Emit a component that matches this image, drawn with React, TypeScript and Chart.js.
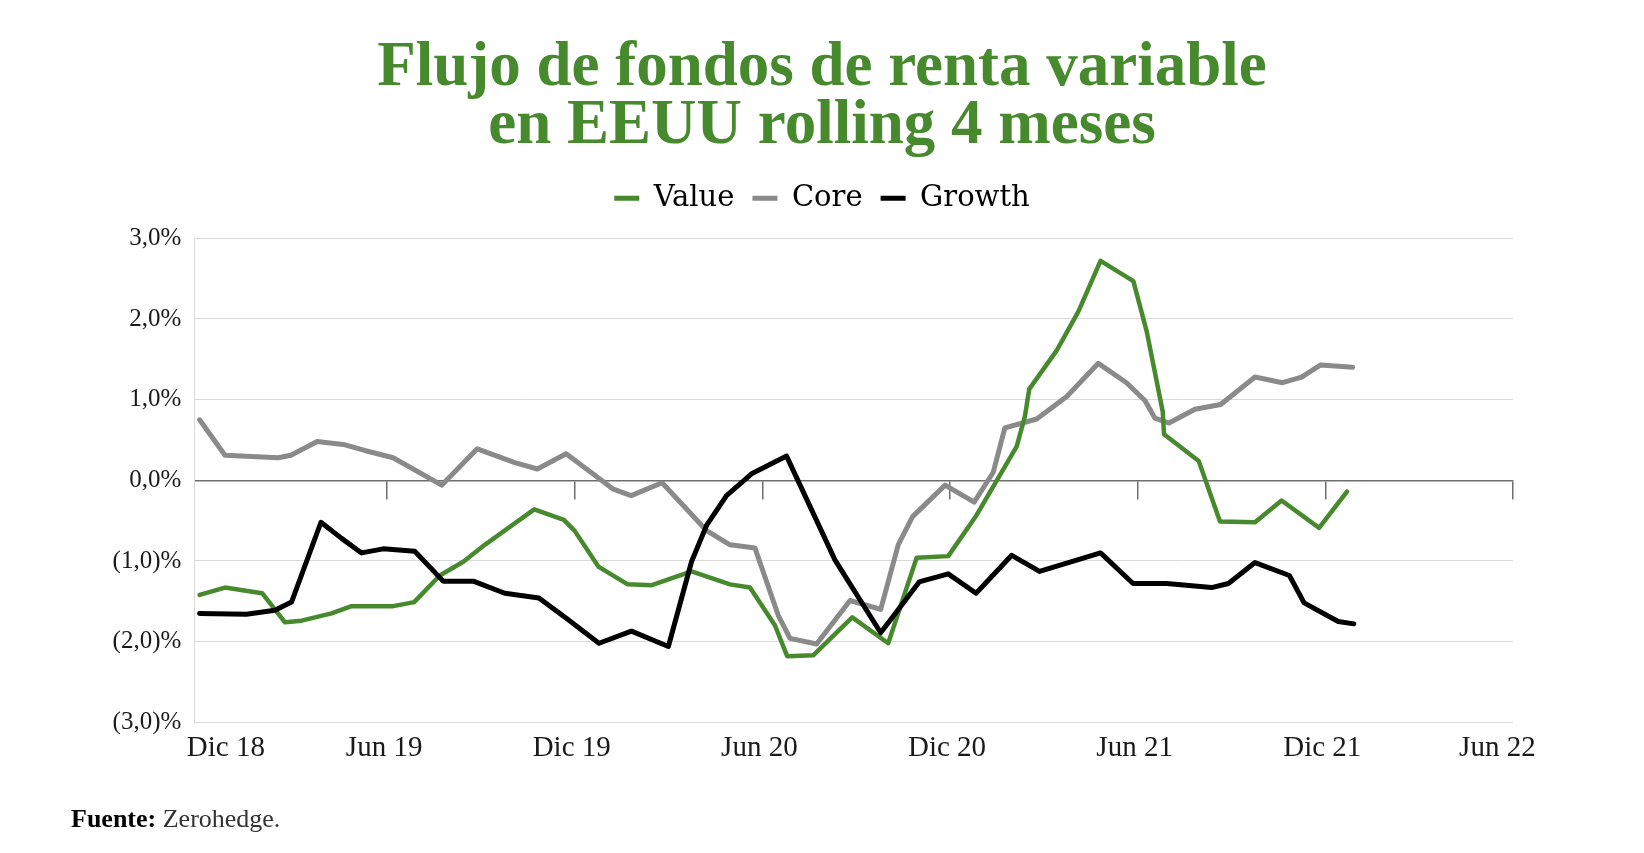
import React, { useEffect, useRef } from 'react';
import { Chart, registerables } from 'chart.js';

Chart.register(...registerables);

// ---- Data (months since Dec 2018, % values) ----
const titleLines = ['Flujo de fondos de renta variable', 'en EEUU rolling 4 meses'];
const seriesNames = ['Value', 'Core', 'Growth'];

const tickMonths = [0, 6, 12, 18, 24, 30, 36, 42];
const tickLabels = ['Dic 18', 'Jun 19', 'Dic 19', 'Jun 20', 'Dic 20', 'Jun 21', 'Dic 21', 'Jun 22'];

const valueMonths = [0, 0.81, 2.0, 2.73, 3.26, 4.22, 4.86, 6.19, 6.86, 7.68, 8.43, 9.12, 10.7, 11.65, 12.0, 12.75, 13.69, 14.46, 15.73, 16.96, 17.6, 18.4, 18.79, 19.62, 20.87, 22.02, 22.93, 23.94, 24.85, 26.13, 26.39, 26.53, 27.41, 28.1, 28.81, 29.86, 30.29, 30.8, 30.84, 31.95, 32.63, 33.75, 34.6, 35.8, 36.69];
const valueData = [-1.42, -1.33, -1.40, -1.76, -1.74, -1.65, -1.56, -1.56, -1.51, -1.18, -1.01, -0.80, -0.36, -0.49, -0.63, -1.07, -1.29, -1.30, -1.13, -1.29, -1.33, -1.80, -2.18, -2.17, -1.70, -2.02, -0.96, -0.94, -0.43, 0.42, 0.79, 1.13, 1.61, 2.09, 2.72, 2.47, 1.84, 0.85, 0.57, 0.24, -0.51, -0.52, -0.25, -0.59, -0.14];

const coreMonths = [0, 0.81, 2.51, 2.92, 3.76, 4.65, 5.28, 6.19, 7.74, 8.88, 10.08, 10.8, 11.72, 12.65, 13.23, 13.8, 14.79, 16.2, 16.96, 17.76, 18.5, 18.88, 19.73, 20.8, 21.78, 22.34, 22.8, 23.84, 24.77, 25.38, 25.75, 26.77, 27.73, 28.74, 29.64, 30.23, 30.55, 31.0, 31.83, 32.65, 33.75, 34.63, 35.24, 35.85, 36.87];
const coreData = [0.75, 0.31, 0.28, 0.31, 0.48, 0.44, 0.37, 0.28, -0.06, 0.39, 0.22, 0.14, 0.33, 0.06, -0.11, -0.19, -0.03, -0.62, -0.80, -0.84, -1.67, -1.96, -2.03, -1.49, -1.60, -0.80, -0.45, -0.06, -0.27, 0.10, 0.65, 0.76, 1.04, 1.45, 1.21, 0.99, 0.77, 0.71, 0.88, 0.94, 1.28, 1.21, 1.28, 1.43, 1.40];

const growthMonths = [0, 1.5, 2.41, 2.94, 3.88, 4.54, 5.18, 5.87, 6.88, 7.79, 8.75, 9.76, 10.85, 11.79, 12.77, 13.81, 14.99, 15.73, 16.21, 16.85, 17.65, 18.77, 20.32, 21.78, 23.01, 23.94, 24.83, 25.97, 26.86, 28.81, 29.85, 30.92, 32.36, 32.9, 33.75, 34.85, 35.32, 36.41, 36.91];
const growthData = [-1.65, -1.66, -1.61, -1.51, -0.52, -0.72, -0.90, -0.85, -0.88, -1.25, -1.25, -1.40, -1.46, -1.73, -2.02, -1.87, -2.06, -1.01, -0.56, -0.19, 0.08, 0.30, -0.99, -1.89, -1.26, -1.16, -1.40, -0.93, -1.13, -0.90, -1.28, -1.28, -1.33, -1.28, -1.02, -1.18, -1.52, -1.75, -1.78];

const yMin = -3;
const yMax = 3;
const xMin = -0.17;
const xMax = 42;

// ---- Styles ----
const GREEN = '#478a2e';
const GRAY = '#8a8a8a';
const BLACK = '#000000';
const W = 1628;
const H = 837;

const toPoints = (xs: number[], ys: number[]) => xs.map((x, i) => ({ x, y: ys[i] }));

const fmtPct = (v: number) => {
  const s = Math.abs(v).toFixed(1).replace('.', ',');
  return v < 0 ? `(${s})%` : `${s}%`;
};

export default function App() {
  const ref = useRef<HTMLCanvasElement | null>(null);

  useEffect(() => {
    if (!ref.current) return;
    const lineCommon = {
      pointRadius: 0,
      pointHoverRadius: 0,
      tension: 0,
      fill: false,
      borderJoinStyle: 'round' as const,
      borderCapStyle: 'round' as const,
    };
    const chart = new Chart(ref.current, {
      type: 'line',
      data: {
        datasets: [
          { ...lineCommon, label: seriesNames[0], data: toPoints(valueMonths, valueData), borderColor: GREEN, backgroundColor: GREEN, borderWidth: 4.5, order: 1 },
          { ...lineCommon, label: seriesNames[1], data: toPoints(coreMonths, coreData), borderColor: GRAY, backgroundColor: GRAY, borderWidth: 5, order: 2 },
          { ...lineCommon, label: seriesNames[2], data: toPoints(growthMonths, growthData), borderColor: BLACK, backgroundColor: BLACK, borderWidth: 5, order: 0 },
        ],
      },
      options: {
        responsive: false,
        maintainAspectRatio: false,
        devicePixelRatio: 1,
        animation: false,
        events: [],
        layout: { padding: { left: 0, right: 0, top: 0, bottom: 77.7 } },
        plugins: {
          tooltip: { enabled: false },
          title: {
            display: true,
            text: titleLines,
            color: GREEN,
            font: { family: "'Liberation Serif', serif", size: 63, weight: 'bold', lineHeight: 58 / 63 },
            padding: { top: 31.7, bottom: 10.1 },
          },
          legend: {
            display: true,
            position: 'top',
            labels: {
              boxWidth: 25,
              boxHeight: 5,
              padding: 18,
              color: '#000',
              font: { family: "'DejaVu Serif', serif", size: 29 },
              sort: (a: any, b: any) => a.datasetIndex - b.datasetIndex,
              generateLabels: (c: any) =>
                Chart.defaults.plugins.legend.labels
                  .generateLabels(c)
                  .map((it: any) => ({ ...it, fillStyle: it.strokeStyle, lineWidth: 0 })),
            },
          },
        },
        scales: {
          x: {
            type: 'linear',
            min: xMin,
            max: xMax,
            position: { y: 0 } as any,
            afterBuildTicks: (s: any) => {
              s.ticks = tickMonths.filter((m) => m > 0).map((v) => ({ value: v }));
            },
            grid: { display: true, drawOnChartArea: false, drawTicks: true, tickLength: 18, color: '#6e6e6e', lineWidth: 1.5 },
            border: { display: true, color: '#6e6e6e', width: 1.5 },
            ticks: { display: false, autoSkip: false },
          },
          x2: {
            type: 'linear',
            min: xMin,
            max: xMax,
            position: 'bottom',
            afterBuildTicks: (s: any) => {
              const last = tickMonths.length - 1;
              s.ticks = tickMonths.map((m, i) => ({ value: m + (i === 0 ? 0.84 : i === last ? -0.5 : -0.1) }));
            },
            afterFit: (s: any) => {
              s.height = 45;
            },
            grid: { display: false, drawTicks: false },
            border: { display: false },
            ticks: {
              autoSkip: false,
              maxRotation: 0,
              padding: 8.8,
              color: '#1a1a1a',
              font: { family: "'Liberation Serif', serif", size: 29 },
              callback: (_v: any, i: number) => tickLabels[i],
            },
          },
          xTop: {
            type: 'linear',
            position: 'top',
            display: true,
            afterFit: (s: any) => {
              s.height = 15.5;
            },
            grid: { display: false, drawTicks: false },
            border: { display: false },
            ticks: { display: false },
          },
          y: {
            type: 'linear',
            min: yMin,
            max: yMax,
            position: 'left',
            afterFit: (s: any) => {
              s.width = 186.3;
            },
            ticks: {
              stepSize: 1,
              padding: 13,
              color: '#1a1a1a',
              font: { family: "'Liberation Serif', serif", size: 25 },
              callback: (v: any) => fmtPct(Number(v)),
            },
            grid: {
              drawTicks: false,
              lineWidth: 1,
              color: (ctx: any) => (ctx.tick && ctx.tick.value === 0 ? 'rgba(0,0,0,0)' : '#d9d9d9'),
            },
            border: { display: true, color: '#d9d9d9', width: 1 },
          },
          yRight: {
            type: 'linear',
            position: 'right',
            display: true,
            afterFit: (s: any) => {
              s.width = 123;
            },
            grid: { display: false, drawTicks: false },
            border: { display: false },
            ticks: { display: false },
          },
        },
      },
    } as any);
    return () => chart.destroy();
  }, []);

  return (
    <div style={{ position: 'relative', width: W, height: H }}>
      <canvas ref={ref} width={W} height={H} style={{ display: 'block', width: W, height: H }} />
      <div
        style={{
          position: 'absolute',
          left: 63,
          top: 798,
          font: "26px/26px 'Liberation Serif', serif",
          whiteSpace: 'nowrap',
        }}
      >
        <span style={{ fontWeight: 700, color: '#000' }}>Fuente:</span>
        <span style={{ color: '#333' }}> Zerohedge.</span>
      </div>
    </div>
  );
}
